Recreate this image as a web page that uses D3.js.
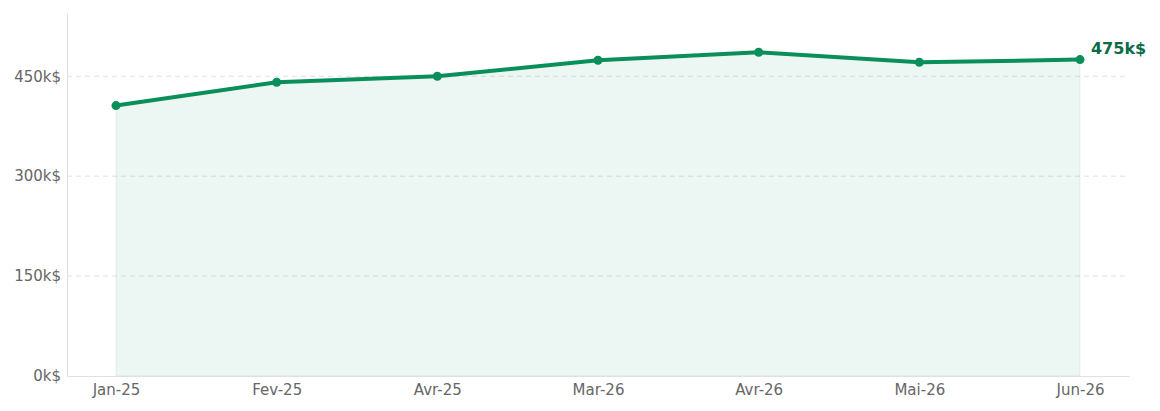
<!DOCTYPE html>
<html>
<head>
<meta charset="utf-8">
<script src="https://cdn.jsdelivr.net/npm/d3@7"></script>
<style>
  body { margin: 0; background: #fff; font-family: "DejaVu Sans", sans-serif; }
</style>
</head>
<body>
<svg id="chart" width="1160" height="411"></svg>
<script>
// data (k$)
var months = ["Jan-25", "Fev-25", "Avr-25", "Mar-26", "Avr-26", "Mai-26", "Jun-26"];
var values = [406, 441, 450, 474, 486, 471, 475];
var yTicks = [0, 150, 300, 450];

function drawChart(){
    let svg = d3.select("#chart");
    let margin = {top: 13, right: 31, bottom: 35, left: 67};
    let width = 1160 - margin.left - margin.right,
        height = 411 - margin.top - margin.bottom;

    let g = svg.append("g").attr("transform", `translate(${margin.left},${margin.top})`);

    let xScale = d3.scalePoint()
        .domain(months)
        .range([0, width])
        .padding(0.305);

    let yScale = d3.scaleLinear()
        .domain([0, 545])
        .range([height, 0]);

    let data = months.map(function(m, i){ return {month: m, value: values[i]}; });

    // grid lines
    g.selectAll(".grid")
        .data(yTicks.filter(function(t){ return t > 0; }))
        .enter()
        .append("line")
        .attr("x1", 0)
        .attr("x2", width)
        .attr("y1", function(d){ return yScale(d); })
        .attr("y2", function(d){ return yScale(d); })
        .style("stroke", "#e0e0e0")
        .style("stroke-dasharray", "5,4");

    // area
    let area = d3.area()
        .x(function(d){ return xScale(d.month); })
        .y0(height)
        .y1(function(d){ return yScale(d.value); });

    g.append("path")
        .datum(data)
        .attr("d", area)
        .style("fill", "#0a8f5a")
        .style("fill-opacity", 0.08)
        .style("stroke", "#0a8f5a")
        .style("stroke-opacity", 0.08);

    // axes
    let yAxis = d3.axisLeft(yScale)
        .tickValues(yTicks)
        .tickSize(0)
        .tickPadding(6)
        .tickFormat(function(d){ return d + "k$"; });
    let yg = g.append("g").call(yAxis)
        .attr("font-family", "DejaVu Sans")
        .attr("font-size", 15);
    yg.select(".domain").style("stroke", "#e0e0e0");
    yg.selectAll("text").style("fill", "#666");

    let xAxis = d3.axisBottom(xScale)
        .tickSize(0)
        .tickPadding(8);
    let xg = g.append("g").attr("transform", `translate(0,${height})`).call(xAxis)
        .attr("font-family", "DejaVu Sans")
        .attr("font-size", 15);
    xg.select(".domain").style("stroke", "#e0e0e0");
    xg.selectAll("text").attr("dy", "0.71em").style("fill", "#666");

    // line
    let line = d3.line()
        .x(function(d){ return xScale(d.month); })
        .y(function(d){ return yScale(d.value); });

    g.append("path")
        .datum(data)
        .attr("d", line)
        .style("fill", "none")
        .style("stroke", "#0a8f5a")
        .style("stroke-width", 4)
        .style("stroke-linejoin", "round");

    g.selectAll(".dot")
        .data(data)
        .enter()
        .append("circle")
        .attr("cx", function(d){ return xScale(d.month); })
        .attr("cy", function(d){ return yScale(d.value); })
        .attr("r", 4.5)
        .style("fill", "#0a8f5a");

    // last value label
    let last = data[data.length - 1];
    g.append("text")
        .attr("x", xScale(last.month) + 11)
        .attr("y", yScale(last.value) - 6)
        .text(last.value + "k$")
        .style("font-family", "DejaVu Sans")
        .style("font-size", "16px")
        .style("font-weight", "bold")
        .style("fill", "#0b6b45");
}

window.onload = function(){
    drawChart();
};
</script>
</body>
</html>
